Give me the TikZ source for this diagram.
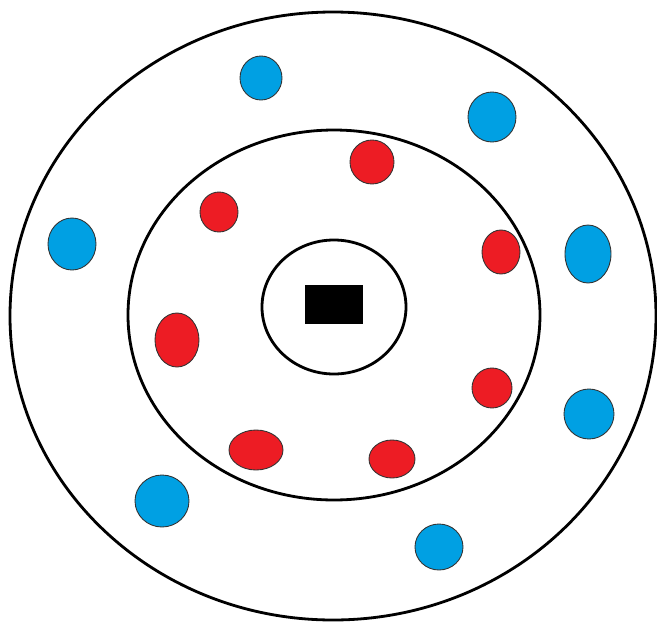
\documentclass[tikz,border=0pt]{standalone}
\usepackage{tikz}

\definecolor{ionblue}{RGB}{0,160,227}
\definecolor{ionred}{RGB}{237,28,36}

\begin{document}
\begin{tikzpicture}[x=0.02cm,y=-0.02cm,line width=1.6pt,
  blueion/.style={fill=ionblue,draw=black!80,line width=0.5pt},
  redion/.style={fill=ionred,draw=black!80,line width=0.5pt}]
  \useasboundingbox (0,0) rectangle (657,623);
  % shells
  \draw (333,316) ellipse [x radius=323,y radius=304];
  \draw (334,315) ellipse [x radius=206,y radius=185];
  \draw (334,307) ellipse [x radius=72,y radius=67];
  % core
  \fill (305,285) rectangle (363,324);
  % outer ions
  \foreach \x/\y/\rx/\ry in {261/78/21/22, 492/117/24/25, 72/244/24/26, 588/254/23/29,
      589/414/25/25, 162/501/27/26, 439/547/24/23}
    \draw[blueion] (\x,\y) ellipse [x radius=\rx,y radius=\ry];
  % inner ions
  \foreach \x/\y/\rx/\ry in {372/162/22/22, 219/212/19/20, 501/252/19/22, 177/340/22/27,
      492/388/20/20, 256/450/27/20, 392/459/23/19}
    \draw[redion] (\x,\y) ellipse [x radius=\rx,y radius=\ry];
\end{tikzpicture}
\end{document}
